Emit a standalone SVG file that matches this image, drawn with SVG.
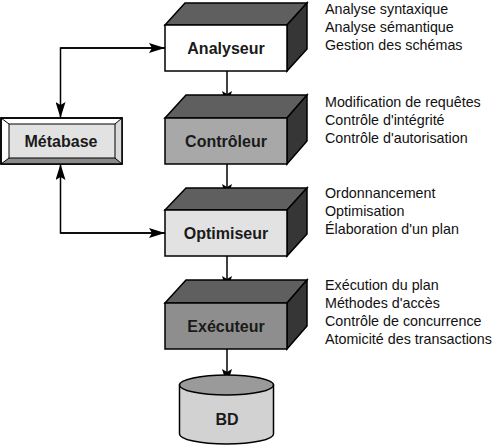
<svg xmlns="http://www.w3.org/2000/svg" width="492" height="446" viewBox="0 0 492 446">
<defs>
<style>
.e{stroke:#000;stroke-width:1.5;stroke-linejoin:miter}
.top{fill:#5f5f5f}
.side{fill:#363636}
.lbl{font-family:"Liberation Sans",Arial,sans-serif;font-weight:bold;font-size:16px;text-anchor:middle;fill:#1a1a1a}
.note{font-family:"Liberation Sans",Arial,sans-serif;font-size:14.3px;fill:#111}
.c{fill:none;stroke:#000;stroke-width:1.5}
</style>
<marker id="ah" viewBox="0 0 16 10" refX="16" refY="5" markerWidth="16" markerHeight="10" markerUnits="userSpaceOnUse" orient="auto">
<path d="M0,0 L16,5 L0,10 L3,5 Z" fill="#000"/>
</marker>
</defs>
<rect width="492" height="446" fill="#fff"/>

<g id="connectors">
<line class="c" x1="227" y1="71" x2="227" y2="107" marker-end="url(#ah)"/>
<line class="c" x1="227" y1="164" x2="227" y2="200" marker-end="url(#ah)"/>
<line class="c" x1="227" y1="256" x2="227" y2="292" marker-end="url(#ah)"/>
<line class="c" x1="227" y1="349" x2="227" y2="385" marker-end="url(#ah)"/>
<polyline class="c" points="165,48 60.5,48 60.5,118" marker-end="url(#ah)"/>
<polyline class="c" points="60.5,48 165,48" marker-end="url(#ah)"/>
<polyline class="c" points="165,233 60.5,233 60.5,164" marker-end="url(#ah)"/>
<polyline class="c" points="60.5,233 165,233" marker-end="url(#ah)"/>
</g>

<g id="analyseur">
<polygon class="e top" points="165,25 185,3 307,3 287,25"/>
<polygon class="e side" points="287,25 307,3 307,49 287,71"/>
<rect class="e" x="165" y="25" width="122" height="46" fill="#fff"/>
<text class="lbl" x="226" y="54">Analyseur</text>
</g>

<g id="controleur">
<polygon class="e top" points="165,118 186,95 307,95 287,118"/>
<polygon class="e side" points="287,118 307,95 307,141 287,164"/>
<rect class="e" x="165" y="118" width="122" height="46" fill="#a8a8a8"/>
<text class="lbl" x="226" y="147">Contrôleur</text>
</g>

<g id="optimiseur">
<polygon class="e top" points="165,210 186,188 307,188 287,210"/>
<polygon class="e side" points="287,210 307,188 307,234 287,256"/>
<rect class="e" x="165" y="210" width="122" height="46" fill="#e2e2e2"/>
<text class="lbl" x="226" y="239">Optimiseur</text>
</g>

<g id="executeur">
<polygon class="e top" points="165,303 186,280 307,280 287,303"/>
<polygon class="e side" points="287,303 307,280 307,326 287,349"/>
<rect class="e" x="165" y="303" width="122" height="46" fill="#8e8e8e"/>
<text class="lbl" x="226" y="332">Exécuteur</text>
</g>

<g id="metabase">
<rect x="1" y="118" width="121" height="46" fill="#fff" stroke="#000" stroke-width="1.5"/>
<polygon points="122,118 115,124 115,158 122,164" fill="#dadada"/>
<polygon points="1,164 9,158 115,158 122,164" fill="#8a8a8a"/>
<rect x="9" y="124" width="106" height="34" fill="#e2e2e2" stroke="#000" stroke-width="1"/>
<line x1="1" y1="118" x2="9" y2="124" stroke="#000" stroke-width="1"/>
<line x1="122" y1="118" x2="115" y2="124" stroke="#000" stroke-width="1"/>
<line x1="1" y1="164" x2="9" y2="158" stroke="#000" stroke-width="1"/>
<line x1="122" y1="164" x2="115" y2="158" stroke="#000" stroke-width="1"/>
<rect x="1" y="118" width="121" height="46" fill="none" stroke="#000" stroke-width="1.5"/>
<text class="lbl" x="61" y="147">Métabase</text>
</g>

<g id="bd">
<path class="e" d="M179.5,385 L179.5,434 A47,10 0 0 0 273.5,434 L273.5,385 Z" fill="#d2d2d2"/>
<ellipse class="e" cx="226.5" cy="385" rx="47" ry="10" fill="#9a9a9a"/>
<text class="lbl" x="227" y="425">BD</text>
</g>

<g id="notes">
<text class="note" x="325" y="14">Analyse syntaxique</text>
<text class="note" x="325" y="32">Analyse sémantique</text>
<text class="note" x="325" y="50">Gestion des schémas</text>
<text class="note" x="325" y="107">Modification de requêtes</text>
<text class="note" x="325" y="125">Contrôle d'intégrité</text>
<text class="note" x="325" y="143">Contrôle d'autorisation</text>
<text class="note" x="325" y="198">Ordonnancement</text>
<text class="note" x="325" y="216">Optimisation</text>
<text class="note" x="325" y="234">Élaboration d'un plan</text>
<text class="note" x="325" y="290">Exécution du plan</text>
<text class="note" x="325" y="308">Méthodes d'accès</text>
<text class="note" x="325" y="326">Contrôle de concurrence</text>
<text class="note" x="325" y="344">Atomicité des transactions</text>
</g>
</svg>
